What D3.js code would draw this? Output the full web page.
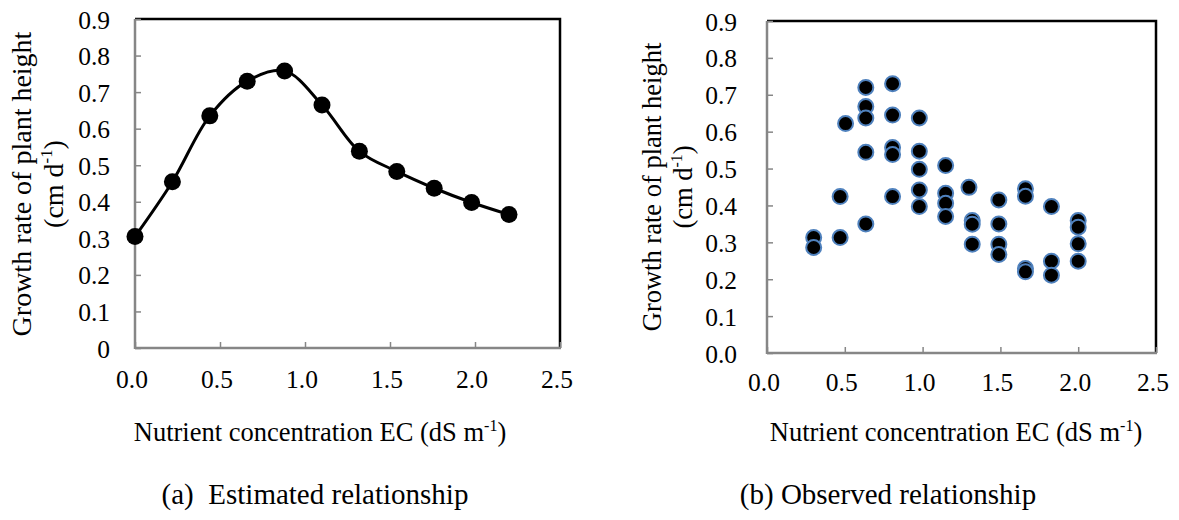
<!DOCTYPE html>
<html>
<head>
<meta charset="utf-8">
<script src="https://cdn.jsdelivr.net/npm/d3@7"></script>
<style>
  body { margin: 0; background: #fff; }
</style>
</head>
<body>
<svg id="chart" width="1179" height="520"></svg>
<script>
// (a) estimated relationship
const estEC = [0, 0.22, 0.44, 0.66, 0.88, 1.1, 1.32, 1.54, 1.76, 1.98, 2.2];
const estRate = [0.305, 0.455, 0.635, 0.73, 0.758, 0.665, 0.538, 0.483, 0.437, 0.398, 0.365];

// (b) observed relationship
const obsEC = [0.3, 0.3, 0.47, 0.47, 0.505,
  0.635, 0.635, 0.635, 0.635, 0.635,
  0.807, 0.807, 0.807, 0.807, 0.807,
  0.979, 0.979, 0.979, 0.979, 0.979,
  1.148, 1.148, 1.148, 1.148,
  1.298, 1.319, 1.319, 1.319,
  1.49, 1.49, 1.49, 1.49,
  1.661, 1.661, 1.661, 1.661,
  1.828, 1.828, 1.828,
  2.0, 2.0, 2.0, 2.0];
const obsRate = [0.313, 0.286, 0.313, 0.424, 0.622,
  0.72, 0.668, 0.637, 0.544, 0.35,
  0.73, 0.645, 0.557, 0.538, 0.424,
  0.637, 0.547, 0.498, 0.442, 0.397,
  0.508, 0.433, 0.406, 0.37,
  0.449, 0.359, 0.349, 0.295,
  0.415, 0.35, 0.295, 0.267,
  0.445, 0.425, 0.229, 0.22,
  0.397, 0.249, 0.211,
  0.359, 0.341, 0.296, 0.249];

const xTicks = [0, 0.5, 1.0, 1.5, 2.0, 2.5];
const yTicks = [0, 0.1, 0.2, 0.3, 0.4, 0.5, 0.6, 0.7, 0.8, 0.9];
const yLabelLines = ["Growth rate of plant height", "(cm d", ")"];
const xLabel = "Nutrient concentration EC (dS m";
const captions = ["(a)\u00a0 Estimated relationship", "(b) Observed relationship"];

const serif = "'Liberation Serif', 'Times New Roman', Tinos, 'DejaVu Serif', serif";
const svg = d3.select("#chart");
const root = svg.append("g").attr("font-family", serif).style("font-family", serif);
const axisGrey = "#868686";

function drawPanel(p) {
  const x = d3.scaleLinear().domain([0, 2.5]).range([p.left, p.right]);
  const y = d3.scaleLinear().domain([0, 0.9]).range([p.bottom, p.top]);
  const g = root.append("g");

  // black frame on top and right
  g.append("path")
    .attr("d", `M${p.left},${p.top}H${p.right}V${p.bottom}`)
    .attr("fill", "none")
    .attr("stroke", "#000")
    .attr("stroke-width", 2.5);

  // grey axes with inward ticks
  const yAxis = g.append("g")
    .attr("transform", `translate(${p.left},0)`)
    .call(d3.axisRight(y).tickValues(yTicks).tickSize(6).tickFormat(""));
  const xAxis = g.append("g")
    .attr("transform", `translate(0,${p.bottom})`)
    .call(d3.axisTop(x).tickValues(xTicks).tickSize(6).tickFormat(""));
  [yAxis, xAxis].forEach(a => {
    a.attr("font-family", null);
    a.select(".domain").attr("stroke", axisGrey).attr("stroke-width", 2.5)
      .attr("d", a === yAxis ? `M0,${p.bottom + 1}V${p.top}` : `M${p.left},0H${p.right + 1}`);
    a.selectAll(".tick line").attr("stroke", axisGrey).attr("stroke-width", 1.5);
  });

  // tick labels
  g.selectAll(".ylab").data(yTicks).enter().append("text")
    .attr("x", p.left - p.yLabGap)
    .attr("y", d => y(d) + 9.5)
    .attr("text-anchor", "end")
    .attr("font-size", 25.5)
    .text(d => (d === 0 && !p.zeroDecimal) ? "0" : d3.format(".1f")(d));
  g.selectAll(".xlab").data(xTicks).enter().append("text")
    .attr("x", d => x(d) - 3)
    .attr("y", p.bottom + p.xLabDy)
    .attr("text-anchor", "middle")
    .attr("font-size", 25.5)
    .text(d => d3.format(".1f")(d));

  // y title (two lines, rotated)
  const fs = p.yTitleSize;
  const yt = g.append("text")
    .attr("transform", `translate(${p.yTitleX},${p.yTitleY}) rotate(-90)`)
    .attr("text-anchor", "middle")
    .attr("font-size", fs);
  yt.append("tspan").attr("x", 0).attr("dy", 0).text(yLabelLines[0]);
  const l2 = yt.append("tspan").attr("x", 0).attr("dy", p.yTitleGap);
  l2.append("tspan").text(yLabelLines[1]);
  l2.append("tspan").attr("font-size", fs * 0.6).attr("dy", -fs * 0.38).text("-1");
  l2.append("tspan").attr("dy", fs * 0.38).text(yLabelLines[2]);

  // x title
  const xt = g.append("text")
    .attr("x", p.xTitleX)
    .attr("y", 441)
    .attr("text-anchor", "middle")
    .attr("font-size", 26.5);
  xt.append("tspan").text(xLabel);
  xt.append("tspan").attr("font-size", 16).attr("dy", -10).text("-1");
  xt.append("tspan").attr("dy", 10).text(")");

  // caption
  g.append("text")
    .attr("x", p.capX)
    .attr("y", 504)
    .attr("text-anchor", "middle")
    .attr("font-size", 29)
    .text(p.caption);

  return { g, x, y };
}

// panel (a)
const pa = drawPanel({
  left: 135, right: 560, top: 19, bottom: 348,
  yLabGap: 25, xLabDy: 40, zeroDecimal: false,
  yTitleX: 31, yTitleY: 184, yTitleSize: 28, yTitleGap: 32,
  xTitleX: 320, capX: 315,
  caption: captions[0]
});
const estData = estEC.map((e, i) => ({ ec: e, rate: estRate[i] }));
const line = d3.line()
  .x(d => pa.x(d.ec))
  .y(d => pa.y(d.rate))
  .curve(d3.curveCatmullRom.alpha(0.5));
pa.g.append("path")
  .datum(estData)
  .attr("d", line)
  .attr("fill", "none")
  .attr("stroke", "#000")
  .attr("stroke-width", 3);
pa.g.selectAll(".est").data(estData).enter().append("circle")
  .attr("cx", d => pa.x(d.ec))
  .attr("cy", d => pa.y(d.rate))
  .attr("r", 8.5)
  .attr("fill", "#000");

// panel (b)
const pb = drawPanel({
  left: 767, right: 1156, top: 21, bottom: 353,
  yLabGap: 30, xLabDy: 38, zeroDecimal: true,
  yTitleX: 661, yTitleY: 187, yTitleSize: 26.5, yTitleGap: 31,
  xTitleX: 956, capX: 888,
  caption: captions[1]
});
const obsData = obsEC.map((e, i) => ({ ec: e, rate: obsRate[i] }));
pb.g.selectAll(".obs").data(obsData).enter().append("circle")
  .attr("cx", d => pb.x(d.ec))
  .attr("cy", d => pb.y(d.rate))
  .attr("r", 7.5)
  .attr("fill", "#000")
  .attr("stroke", "#4f81bd")
  .attr("stroke-width", 2);
</script>
</body>
</html>
